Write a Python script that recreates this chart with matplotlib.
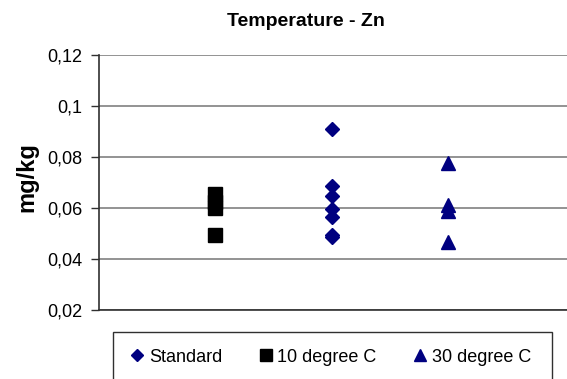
import matplotlib
matplotlib.use("Agg")
import matplotlib.pyplot as plt
from matplotlib.patches import Rectangle

plt.rcParams['font.family'] = ['Liberation Sans', 'DejaVu Sans']

title = "Temperature - Zn"
ylabel = "mg/kg"
series_names = ["Standard", "10 degree C", "30 degree C"]
standard = [0.091, 0.0686, 0.0647, 0.0595, 0.0564, 0.0495, 0.0488]
deg10 = [0.0656, 0.0622, 0.0600, 0.0493]
deg30 = [0.0778, 0.0612, 0.0589, 0.0468]
positions = [1, 2, 3]
yticks = [0.02, 0.04, 0.06, 0.08, 0.10, 0.12]
ytick_labels = ["0,02", "0,04", "0,06", "0,08", "0,1", "0,12"]

W, H = 567, 379
fig = plt.figure(figsize=(W / 100, H / 100), dpi=100)
ax = fig.add_axes([99 / W, 1 - 310 / H, 1 - 99 / W + 0.02, (310 - 55) / H])

navy = "#000080"
h1, = ax.plot([positions[1]] * len(standard), standard, linestyle="none", marker="D",
              ms=7.5, color=navy, mec=navy, label=series_names[0], clip_on=False)
h2, = ax.plot([positions[0]] * len(deg10), deg10, linestyle="none", marker="s",
              ms=10, color="black", label=series_names[1], clip_on=False)
h3, = ax.plot([positions[2]] * len(deg30), deg30, linestyle="none", marker="^",
              ms=10, color=navy, label=series_names[2], clip_on=False)

ax.set_xlim(0, 4.12)
ax.set_ylim(0.02, 0.12)
ax.set_yticks(yticks)
ax.set_yticklabels(ytick_labels, fontsize=13)
ax.set_xticks([])
ax.grid(axis="y", color="#808080", linewidth=1.2)
ax.set_axisbelow(True)
for s in ["top", "right"]:
    ax.spines[s].set_visible(False)
ax.spines["left"].set_color("#303030")
ax.spines["bottom"].set_color("#303030")
ax.spines["left"].set_linewidth(1.2)
ax.spines["bottom"].set_linewidth(1.2)
ax.tick_params(axis="y", length=6, width=1, color="#303030", pad=6)

fig.text(306 / W, 1 - 21 / H, title, ha="center", va="center", fontsize=14, fontweight="bold")
fig.text(27 / W, 1 - 177 / H, ylabel, ha="center", va="center", rotation=90,
         fontsize=17, fontweight="bold")

fig.patches.append(Rectangle((113 / W, -0.05), (552 - 113) / W, 0.05 + (379 - 332) / H,
                             transform=fig.transFigure, fill=False, edgecolor="#303030",
                             linewidth=1, figure=fig))
leg = fig.legend([h1, h2, h3], series_names, loc="center left",
                 bbox_to_anchor=(111 / W, 1 - 357 / H), ncol=3, frameon=False,
                 fontsize=13, handletextpad=0.1, columnspacing=1.85, handlelength=1.1,
                 markerscale=0.85)

fig.savefig("out.png", dpi=100)
